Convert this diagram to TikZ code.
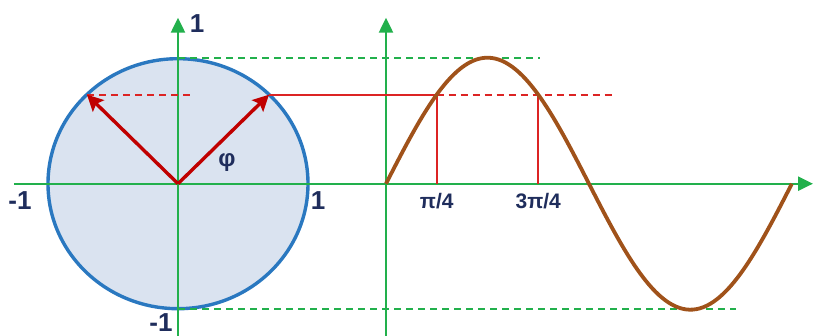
\documentclass[tikz,border=0pt]{standalone}
\usepackage{fontspec}
\setmainfont{Liberation Sans}
\usetikzlibrary{arrows.meta}
\definecolor{axisgreen}{HTML}{22B04C}
\definecolor{circfill}{HTML}{DAE3F0}
\definecolor{circline}{HTML}{2A78C0}
\definecolor{vecred}{HTML}{C00000}
\definecolor{projred}{HTML}{DC2424}
\definecolor{wavebrown}{HTML}{A0521A}
\definecolor{labelblue}{HTML}{1F2D5C}
\begin{document}
\begin{tikzpicture}[
  x=1pt, y=1pt,
  axis/.style={draw=axisgreen, line width=2.3pt},
  axisarr/.style={axis, -{Triangle[length=15pt, width=14pt]}},
  guide/.style={draw=axisgreen, line width=2pt, dash pattern=on 7pt off 5pt},
  vec/.style={draw=vecred, line width=3.4pt,
              -{Stealth[length=16pt, width=16pt, inset=3pt]}},
  proj/.style={draw=projred, line width=1.9pt},
  projdash/.style={proj, dash pattern=on 7pt off 5pt},
  wave/.style={draw=wavebrown, line width=3.8pt},
  lbl/.style={text=labelblue, inner sep=0pt,
              font=\fontsize{26}{26}\selectfont\bfseries},
  small/.style={lbl, font=\fontsize{21}{21}\selectfont\bfseries},
]
\useasboundingbox (-178,-152.3) rectangle (635,183.7);
% Einheitskreis
\coordinate (O) at (0,0);
\fill[circfill] (O) ellipse [x radius=130, y radius=125];
\draw[circline, line width=3.4pt] (O) ellipse [x radius=130, y radius=125];
% Achsen
\coordinate (S)  at (208,0);
\coordinate (xl) at (-164,0);
\coordinate (xr) at (635,0);
\coordinate (yb) at (0,-152.3);
\coordinate (yt) at (0,166);
\coordinate (sb) at (208,-152.3);
\coordinate (st) at (208,166);
\draw[axisarr] (xl) -- (xr);
\draw[axisarr] (yb) -- (yt);
\draw[axisarr] (sb) -- (st);
% Hilfslinien fuer die Amplitude
\coordinate (top)  at (0,126);
\coordinate (topr) at (362,126);
\coordinate (bot)  at (0,-125);
\coordinate (botr) at (558,-125);
\draw[guide] (top) -- (topr);
\draw[guide] (bot) -- (botr);
% Zeiger und Projektionen
\coordinate (A)  at (91,89);
\coordinate (B)  at (-91,89);
\coordinate (Bd) at (12,89);
\coordinate (P1) at ({208+64.6*pi/4},89);
\coordinate (P3) at ({208+64.6*3*pi/4},89);
\coordinate (Pd) at (435,89);
\draw[projdash] (B) -- (Bd);
\draw[proj] (A) -- (P1);
\draw[projdash] (P1) -- (Pd);
\draw[proj] (P1) -- (P1 |- S);
\draw[proj] (P3) -- (P3 |- S);
\draw[vec] (O) -- (A);
\draw[vec] (O) -- (B);
% Sinuskurve
\draw[wave] plot[domain=0:2*pi, samples=120] ({208+64.6*\x},{126*sin(\x r)});
% Beschriftung
\node[lbl]   (one)  at (19,160)    {1};
\node[lbl]   (mone) at (-158,-17)  {-1};
\node[lbl]   (rone) at (140,-17)   {1};
\node[lbl]   (mbot) at (-17,-139)  {-1};
\node[lbl, font=\fontsize{24}{24}\selectfont\bfseries] (phi) at (49,21) {φ};
\node[small, below=9pt] (q1) at (P1 |- S) {π/4};
\node[small, below=9pt] (q3) at (P3 |- S) {3π/4};
\end{tikzpicture}
\end{document}
